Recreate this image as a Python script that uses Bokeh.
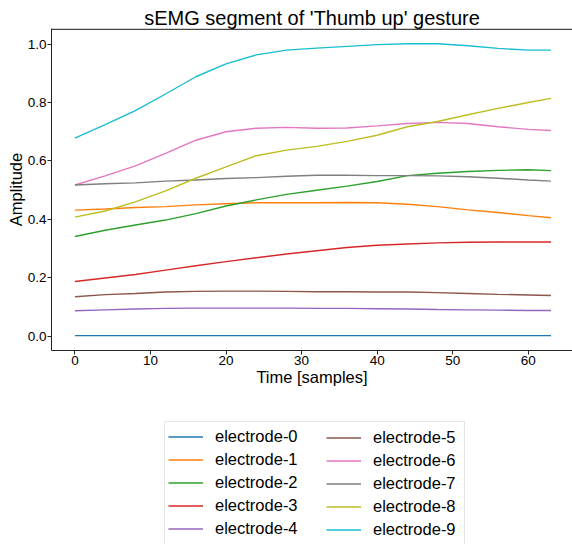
from bokeh.plotting import figure
from bokeh.layouts import column
from bokeh.models import Legend, LegendItem, FixedTicker, NumeralTickFormatter, Span, Range1d
from bokeh.embed import file_html
from bokeh.resources import INLINE

# ---- data ----
samples = [0, 4, 8, 12, 16, 20, 24, 28, 32, 36, 40, 44, 48, 52, 56, 60, 63]
electrode_0 = [0.003, 0.003, 0.003, 0.003, 0.003, 0.003, 0.003, 0.003, 0.003, 0.003, 0.003, 0.003, 0.003, 0.003, 0.003, 0.003, 0.003]
electrode_1 = [0.432, 0.436, 0.441, 0.444, 0.450, 0.454, 0.457, 0.457, 0.457, 0.458, 0.457, 0.452, 0.444, 0.433, 0.424, 0.413, 0.406]
electrode_2 = [0.342, 0.363, 0.381, 0.398, 0.420, 0.446, 0.467, 0.486, 0.500, 0.514, 0.530, 0.550, 0.558, 0.564, 0.568, 0.570, 0.567]
electrode_3 = [0.188, 0.200, 0.212, 0.227, 0.242, 0.256, 0.269, 0.282, 0.293, 0.304, 0.312, 0.316, 0.320, 0.322, 0.323, 0.323, 0.323]
electrode_4 = [0.088, 0.091, 0.094, 0.096, 0.097, 0.097, 0.097, 0.097, 0.096, 0.096, 0.095, 0.094, 0.092, 0.091, 0.090, 0.089, 0.089]
electrode_5 = [0.136, 0.143, 0.147, 0.152, 0.154, 0.155, 0.155, 0.154, 0.153, 0.153, 0.152, 0.152, 0.150, 0.147, 0.144, 0.142, 0.140]
electrode_6 = [0.518, 0.549, 0.583, 0.626, 0.671, 0.700, 0.712, 0.715, 0.712, 0.713, 0.720, 0.728, 0.732, 0.728, 0.717, 0.708, 0.704]
electrode_7 = [0.518, 0.522, 0.525, 0.531, 0.535, 0.540, 0.543, 0.548, 0.551, 0.551, 0.550, 0.550, 0.549, 0.546, 0.541, 0.535, 0.531]
electrode_8 = [0.408, 0.429, 0.460, 0.498, 0.541, 0.580, 0.618, 0.637, 0.650, 0.667, 0.688, 0.717, 0.735, 0.758, 0.780, 0.800, 0.814]
electrode_9 = [0.678, 0.724, 0.772, 0.829, 0.888, 0.932, 0.963, 0.979, 0.986, 0.992, 0.998, 1.001, 1.001, 0.994, 0.985, 0.979, 0.979]

series = [electrode_0, electrode_1, electrode_2, electrode_3, electrode_4,
          electrode_5, electrode_6, electrode_7, electrode_8, electrode_9]
labels = ["electrode-0", "electrode-1", "electrode-2", "electrode-3", "electrode-4",
          "electrode-5", "electrode-6", "electrode-7", "electrode-8", "electrode-9"]
colors = ["#1f77b4", "#ff7f0e", "#2ca02c", "#d62728", "#9467bd",
          "#8c564b", "#e377c2", "#7f7f7f", "#bcbd22", "#17becf"]
x_ticks = [0, 10, 20, 30, 40, 50, 60]
y_ticks = [0.0, 0.2, 0.4, 0.6, 0.8, 1.0]

FONT = "Liberation Sans"

# ---------------- main plot ----------------
p = figure(width=572, height=400,
           x_range=Range1d(-3.1, 65.85), y_range=Range1d(-0.048, 1.053),
           output_backend="svg", toolbar_location=None,
           min_border_left=51, min_border_right=0, min_border_top=28, min_border_bottom=50)

p.title.text = "sEMG segment of 'Thumb up' gesture"
p.title.align = "center"
p.title.text_font = FONT
p.title.text_font_size = "20px"
p.title.text_font_style = "normal"
p.title.text_color = "black"
p.title.standoff = 0

p.grid.visible = False
p.outline_line_color = None
p.background_fill_color = "white"
p.border_fill_color = "white"

for ax in (p.xaxis[0], p.yaxis[0]):
    ax.axis_line_color = "#222222"
    ax.axis_line_width = 1
    ax.major_tick_line_color = "#222222"
    ax.major_tick_out = 4
    ax.major_tick_in = 0
    ax.minor_tick_line_color = None
    ax.major_label_text_font = FONT
    ax.major_label_text_font_size = "13.5px"
    ax.major_label_text_color = "black"
    ax.major_label_standoff = 1
    ax.axis_label_text_font = FONT
    ax.axis_label_text_font_size = "16.5px"
    ax.axis_label_text_font_style = "normal"
    ax.axis_label_text_color = "black"
    ax.axis_label_standoff = 0

p.xaxis.axis_label = "Time [samples]"
p.yaxis.axis_label = "Amplitude"
p.xaxis.ticker = FixedTicker(ticks=x_ticks)
p.yaxis.ticker = FixedTicker(ticks=y_ticks)
p.yaxis.formatter = NumeralTickFormatter(format="0.0")

# top spine
p.add_layout(Span(location=1.0505, dimension="width", line_color="#444444", line_width=1.5))

for ys, c in zip(series, colors):
    p.line(samples, ys, line_color=c, line_width=1.4)

# ---------------- legend panel (its frame is aligned with the main frame) ----------------
p2 = figure(width=572, height=144, x_range=Range1d(1000, 1001), y_range=Range1d(1000, 1001),
            output_backend="svg", toolbar_location=None,
            x_axis_location=None, y_axis_location=None, min_border=0)
p2.grid.visible = False
p2.outline_line_color = None
p2.background_fill_color = "white"
p2.border_fill_color = "white"

items = []
for lab, ys, c in zip(labels, series, colors):
    # proxy renderers (same data, outside this panel's view) used only for legend glyphs
    r = p2.line(samples, ys, line_color=c, line_width=1.4)
    items.append(LegendItem(label=lab, renderers=[r]))

common = dict(padding=3, spacing=0, margin=0,
              glyph_width=35, glyph_height=23, label_height=23, label_standoff=12,
              label_text_font=FONT, label_text_font_size="16.5px", label_text_color="black")

legend_a = Legend(items=items[:5], location=(113, -23), label_width=246,
                  border_line_color="#cccccc", border_line_width=1,
                  background_fill_color="white", background_fill_alpha=1.0,
                  title=" ", title_location="below", title_text_font_size="16px",
                  **common)
legend_b = Legend(items=items[5:], location=(275, 3), label_width=82,
                  border_line_color=None, background_fill_alpha=0.0,
                  **common)
p2.add_layout(legend_a, "center")
p2.add_layout(legend_b, "center")

open("out.html", "w").write(file_html(column(p, p2, spacing=0), INLINE))
